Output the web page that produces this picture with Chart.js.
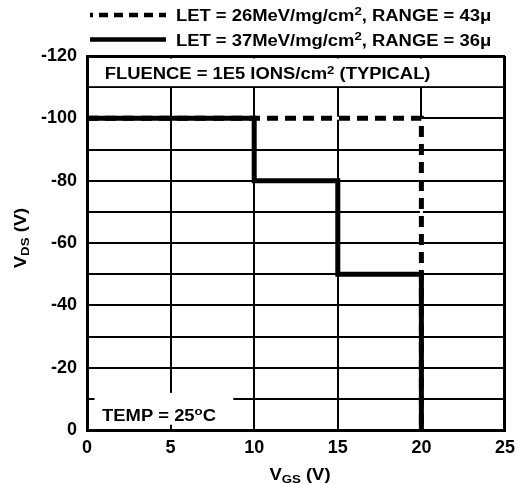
<!DOCTYPE html>
<html>
<head>
<meta charset="utf-8">
<script src="https://cdn.jsdelivr.net/npm/chart.js@4.4.1/dist/chart.umd.min.js"></script>
<style>
  body { margin: 0; background: #fff; }
  #wrap { position: relative; width: 522px; height: 484px; }
</style>
</head>
<body>
<div id="wrap"><canvas id="chart"></canvas></div>
<script>
// values
const vgsTicks = [0, 5, 10, 15, 20, 25];
const vdsTicks = [-120, -100, -80, -60, -40, -20, 0];
const let26Vgs = [0, 20];
const let26Vds = [-100, 0];
const let37Vgs = [0, 10, 15, 20];
const let37Vds = [-100, -80, -50, 0];
const seriesLabels = [
  'LET = 26MeV/mg/cm^{2}, RANGE = 43\u03bc',
  'LET = 37MeV/mg/cm^{2}, RANGE = 36\u03bc',
];
const fluenceNote = 'FLUENCE = 1E5 IONS/cm^{2} (TYPICAL)';
const tempNote = 'TEMP = 25^{o}C';
const xTitle = 'V_{GS} (V)';
const yTitle = 'V_{DS} (V)';

const FAMILY = '"Liberation Sans", Arial, sans-serif';
const STRETCH = 1.15;
const font = (s, w) => (w || 'bold') + ' ' + s + 'px ' + FAMILY;

// tiny rich text: ^{..} superscript, _{..} subscript
function parseRich(str) {
  const out = [];
  const re = /([\^_])\{([^}]*)\}/g;
  let last = 0, m;
  while ((m = re.exec(str))) {
    if (m.index > last) out.push({ t: str.slice(last, m.index), k: '' });
    out.push({ t: m[2], k: m[1] });
    last = re.lastIndex;
  }
  if (last < str.length) out.push({ t: str.slice(last), k: '' });
  return out;
}

function drawRich(ctx, str, x, y, size, align) {
  const parts = parseRich(str);
  let w = 0;
  parts.forEach(p => {
    p.s = p.k ? size * 0.72 : size;
    ctx.font = font(p.s);
    p.w = ctx.measureText(p.t).width;
    w += p.w;
  });
  const sw = w * STRETCH;
  const left = align === 'center' ? x - sw / 2 : align === 'right' ? x - sw : x;
  ctx.save();
  ctx.translate(left, y);
  ctx.scale(STRETCH, 1);
  ctx.textAlign = 'left';
  ctx.textBaseline = 'alphabetic';
  let cx = 0;
  parts.forEach(p => {
    ctx.font = font(p.s);
    const dy = p.k === '^' ? -size * 0.36 : p.k === '_' ? size * 0.2 : 0;
    ctx.fillText(p.t, cx, dy);
    cx += p.w;
  });
  ctx.restore();
  return sw;
}

const toPoints = (xs, ys) => xs.map((x, i) => ({ x: x, y: ys[i] }));

const annotations = {
  id: 'annotations',
  beforeDatasetsDraw(chart) {
    const { ctx, chartArea: a, scales: { x, y } } = chart;
    ctx.save();
    ctx.fillStyle = '#fff';
    // top note box: no vertical grid inside
    ctx.fillRect(a.left + 2, y.getPixelForValue(-119.2), a.width - 4,
      y.getPixelForValue(-110) - y.getPixelForValue(-119.2) - 1);
    // bottom-left temp box
    const x0 = x.getPixelForValue(0.45), x1 = x.getPixelForValue(8.75);
    const y0 = y.getPixelForValue(-11.9), y1 = y.getPixelForValue(-1.7);
    ctx.fillRect(x0, y0, x1 - x0, y1 - y0);
    // dashed curve has white gaps (grid hidden under it)
    chart.data.datasets.forEach((ds, i) => {
      if (!ds.borderDash) return;
      const pts = chart.getDatasetMeta(i).data;
      ctx.strokeStyle = '#fff';
      ctx.lineWidth = 3;
      ctx.beginPath();
      ctx.moveTo(pts[0].x, pts[0].y);
      for (let k = 1; k < pts.length; k++) {
        ctx.lineTo(pts[k].x, pts[k - 1].y);
        ctx.lineTo(pts[k].x, pts[k].y);
      }
      ctx.stroke();
    });
    ctx.fillStyle = '#000';
    drawRich(ctx, fluenceNote, x.getPixelForValue(10.8), y.getPixelForValue(-112.5), 16, 'center');
    drawRich(ctx, tempNote, x.getPixelForValue(0.9), y.getPixelForValue(-3), 16, 'left');
    ctx.restore();
  },
  afterDraw(chart) {
    const { ctx, chartArea: a } = chart;
    ctx.save();
    ctx.fillStyle = '#000';
    ctx.strokeStyle = '#000';
    // legend, drawn from the datasets
    chart.data.datasets.forEach((ds, i) => {
      const ly = 15 + i * 24.5;
      ctx.lineWidth = 4.5;
      ctx.setLineDash(ds.borderDash ? [9, 6] : []);
      ctx.lineDashOffset = ds.borderDash ? 6 : 0;
      ctx.beginPath();
      ctx.moveTo(a.left + 3, ly);
      ctx.lineTo(a.left + 79, ly);
      ctx.stroke();
      drawRich(ctx, ds.label, a.left + 89, ly + 6, 16, 'left');
    });
    ctx.setLineDash([]);
    // axis titles
    drawRich(ctx, xTitle, (a.left + a.right) / 2 + 4, 480, 16, 'center');
    ctx.translate(26, (a.top + a.bottom) / 2 - 5);
    ctx.rotate(-Math.PI / 2);
    drawRich(ctx, yTitle, 0, 0, 16, 'center');
    ctx.restore();
  }
};

const edge = (v, end) => (v === end ? 3 : 2);
const tickFont = { family: FAMILY, size: 18, weight: 'bold' };

new Chart(document.getElementById('chart'), {
  type: 'line',
  data: {
    datasets: [
      {
        label: seriesLabels[0],
        data: toPoints(let26Vgs, let26Vds),
        stepped: 'before',
        borderColor: '#000',
        borderWidth: 5,
        borderDash: [11, 7],
        borderCapStyle: 'butt',
        pointRadius: 0,
        order: 1,
      },
      {
        label: seriesLabels[1],
        data: toPoints(let37Vgs, let37Vds),
        stepped: 'before',
        borderColor: '#000',
        borderWidth: 5,
        pointRadius: 0,
        order: 0,
      },
    ],
  },
  options: {
    responsive: true,
    maintainAspectRatio: false,
    animation: false,
    layout: { padding: { top: 56, right: 10, left: 0, bottom: 0 } },
    plugins: { legend: { display: false }, tooltip: { enabled: false } },
    scales: {
      x: {
        type: 'linear',
        min: vgsTicks[0],
        max: vgsTicks[vgsTicks.length - 1],
        afterFit: s => { s.height = 54; },
        afterBuildTicks: s => { s.ticks = vgsTicks.map(v => ({ value: v })); },
        grid: {
          color: '#000',
          lineWidth: c => edge(c.tick && c.tick.value, 25),
          drawTicks: false,
        },
        border: { display: true, color: '#000', width: 3 },
        ticks: { color: '#000', font: tickFont, padding: 7, maxRotation: 0 },
      },
      y: {
        type: 'linear',
        reverse: true,
        min: vdsTicks[0],
        max: vdsTicks[vdsTicks.length - 1],
        afterFit: s => { s.width = 87; },
        ticks: {
          stepSize: 10,
          color: '#000',
          font: tickFont,
          padding: 10,
          callback: v => (vdsTicks.includes(v) ? String(v) : ''),
        },
        grid: {
          color: '#000',
          lineWidth: c => edge(c.tick && c.tick.value, -120),
          drawTicks: false,
        },
        border: { display: true, color: '#000', width: 3 },
      },
    },
  },
  plugins: [annotations],
});
</script>
</body>
</html>
